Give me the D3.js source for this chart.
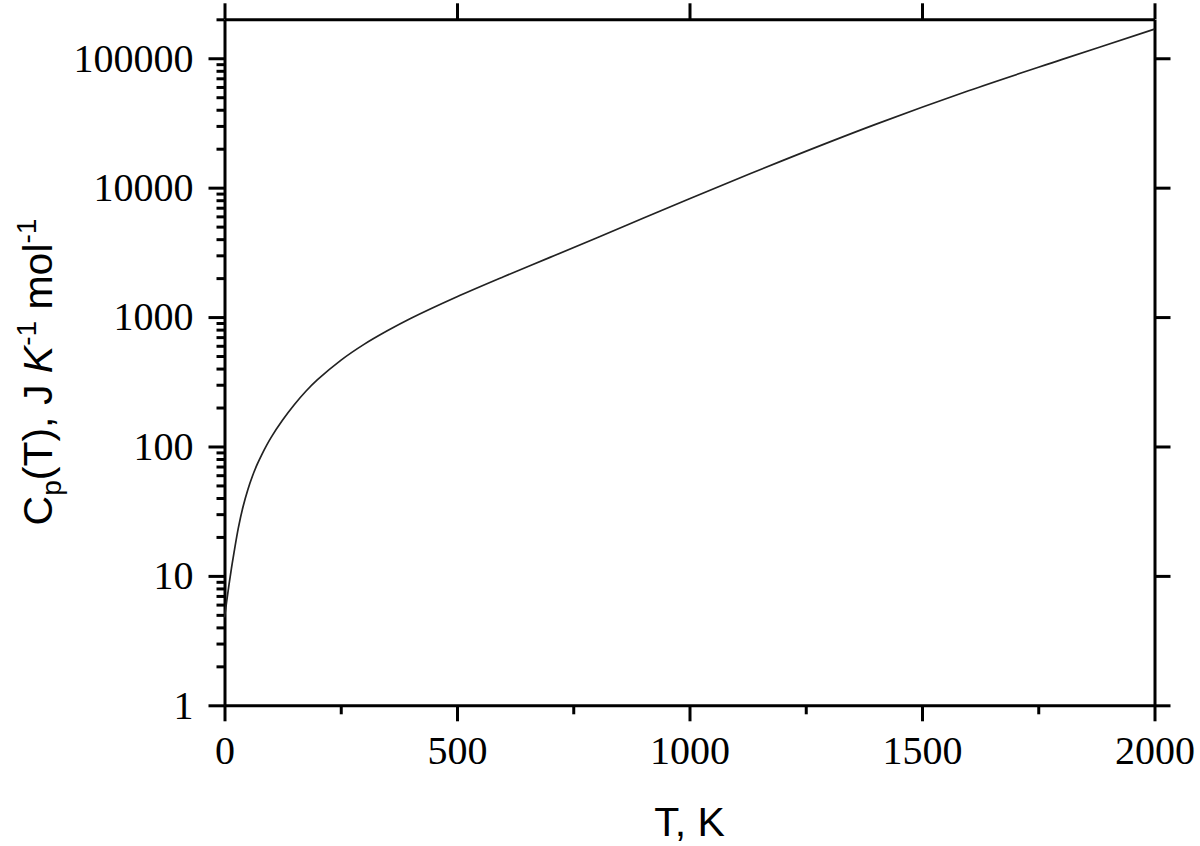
<!DOCTYPE html>
<html>
<head>
<meta charset="utf-8">
<script src="https://cdn.jsdelivr.net/npm/d3@7.9.0/dist/d3.min.js"></script>
<style>
  body { margin: 0; background: #fff; }
  svg { display: block; }
  .tick text { font-family: "Liberation Serif", "DejaVu Serif", serif; font-size: 40px; fill: #000; }
  .axis-label { font-family: "Liberation Sans", Arial, sans-serif; font-size: 41px; fill: #000; }
</style>
</head>
<body>
<svg id="chart" width="1200" height="846"></svg>
<script>
// Curve data
const temps = [0, 5, 10, 15, 20, 30, 40, 50, 60, 70, 80, 100, 125, 150, 175, 200, 250, 300, 350, 400,
  500, 600, 700, 800, 900, 1000, 1200, 1400, 1600, 1800, 2000];
const cp = [4.79, 6.46, 8.71, 11.5, 14.8, 23.7, 34.4, 46.2, 58.9, 72.3, 86.3, 117, 160, 210, 267, 328, 463, 615, 783, 975,
  1436, 2051, 2891, 4083, 5794, 8222, 16180, 30830, 56100, 97500, 167900];

// Tick values
const xMajor = [0, 500, 1000, 1500, 2000];
const xMinor = [250, 750, 1250, 1750];
const yMajor = [1, 10, 100, 1000, 10000, 100000];
const yMinor = [2, 3, 4, 5, 6, 7, 8, 9, 20, 30, 40, 50, 60, 70, 80, 90,
  200, 300, 400, 500, 600, 700, 800, 900, 2000, 3000, 4000, 5000, 6000, 7000, 8000, 9000,
  20000, 30000, 40000, 50000, 60000, 70000, 80000, 90000, 200000];

const svg = d3.select('#chart');
const plotL = 224.5, plotR = 1154.5, plotT = 19.3, plotB = 705.3;

const x = d3.scaleLinear().domain([0, 2000]).range([plotL, plotR]);
const y = d3.scaleLog().domain([1, 200000]).range([plotB, plotT]);

const axisStroke = g => {
  g.select('.domain').attr('stroke', '#000').attr('stroke-width', 3);
  g.selectAll('.tick line').attr('stroke', '#000').attr('stroke-width', 3);
};

// Minor ticks first so the frame draws over them
svg.append('g')
  .attr('transform', `translate(0,${plotB})`)
  .call(d3.axisBottom(x).tickValues(xMinor).tickSize(9).tickFormat('').tickSizeOuter(0))
  .call(axisStroke)
  .call(g => g.select('.domain').remove());

svg.append('g')
  .attr('transform', `translate(${plotL},0)`)
  .call(d3.axisLeft(y).tickValues(yMinor).tickSize(8).tickFormat('').tickSizeOuter(0))
  .call(axisStroke)
  .call(g => g.select('.domain').remove());

// Major axes
svg.append('g')
  .attr('transform', `translate(0,${plotB})`)
  .call(d3.axisBottom(x).tickValues(xMajor).tickSize(16).tickPadding(14).tickSizeOuter(0).tickFormat(d3.format('d')))
  .call(axisStroke);

svg.append('g')
  .attr('transform', `translate(0,${plotT})`)
  .call(d3.axisTop(x).tickValues(xMajor).tickSize(16).tickSizeOuter(0).tickFormat(''))
  .call(axisStroke);

svg.append('g')
  .attr('transform', `translate(${plotL},0)`)
  .call(d3.axisLeft(y).tickValues(yMajor).tickSize(16).tickPadding(15).tickSizeOuter(0).tickFormat(d3.format('d')))
  .call(axisStroke);

svg.append('g')
  .attr('transform', `translate(${plotR},0)`)
  .call(d3.axisRight(y).tickValues(yMajor).tickSize(16).tickSizeOuter(0).tickFormat(''))
  .call(axisStroke);

svg.selectAll('.tick text').attr('fill', '#000');

// Curve
const line = d3.line()
  .x((d, i) => x(temps[i]))
  .y(d => y(d))
  .curve(d3.curveCatmullRom.alpha(0.5));

svg.append('path')
  .datum(cp)
  .attr('fill', 'none')
  .attr('stroke', '#222')
  .attr('stroke-width', 1.7)
  .attr('d', line);

// Axis titles
svg.append('text')
  .attr('class', 'axis-label')
  .attr('x', (plotL + plotR) / 2)
  .attr('y', 836)
  .attr('text-anchor', 'middle')
  .text('T, K');

const yl = svg.append('text')
  .attr('class', 'axis-label')
  .attr('text-anchor', 'middle')
  .attr('transform', 'translate(52,372) rotate(-90)');
yl.append('tspan').text('C');
yl.append('tspan').attr('font-size', 28).attr('dy', 9).text('p');
yl.append('tspan').attr('dy', -9).text('(T), J ');
yl.append('tspan').attr('font-style', 'italic').text('K');
yl.append('tspan').attr('font-size', 28).attr('dy', -16).text('-1');
yl.append('tspan').attr('dy', 16).text(' mol');
yl.append('tspan').attr('font-size', 28).attr('dy', -16).text('-1');
</script>
</body>
</html>
